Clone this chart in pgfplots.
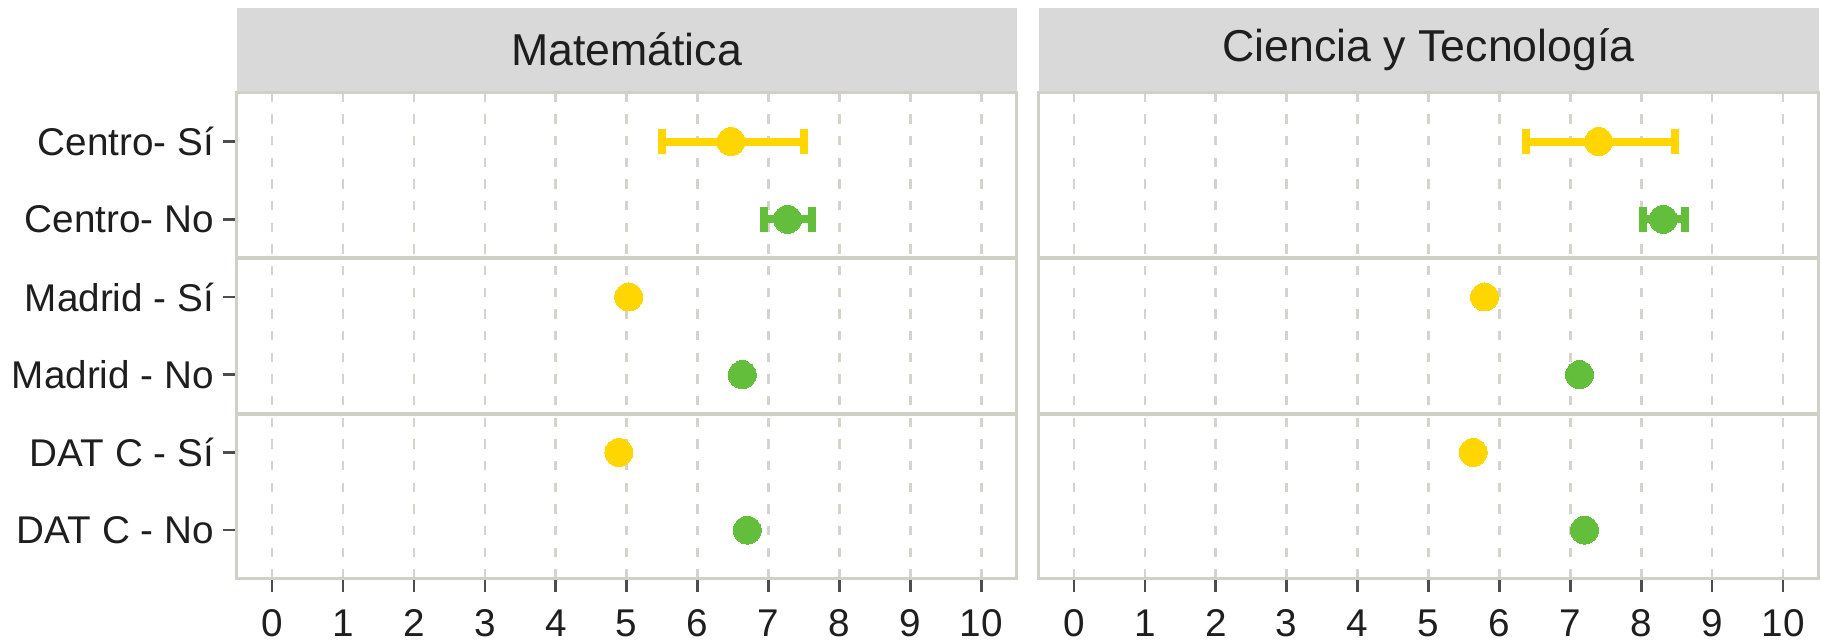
\documentclass[border=0pt]{standalone}
\usepackage{fontspec}
\setmainfont{Liberation Sans}
\usepackage{pgfplots}
\pgfplotsset{compat=1.18}
\usepackage{pgfplotstable}
\definecolor{cgold}{RGB}{255,214,0}
\definecolor{cgreen}{RGB}{99,190,60}
\definecolor{cborder}{RGB}{208,208,198}
\definecolor{cgrid}{RGB}{212,212,204}
\definecolor{cstrip}{RGB}{217,217,217}
\definecolor{ctick}{RGB}{77,77,77}
\definecolor{ctext}{RGB}{30,30,30}

% Matemática
\pgfplotstableread{
x y ep em
6.47 1 1.03 0.97
}\materrsi
\pgfplotstableread{
x y ep em
7.27 2 0.35 0.34
}\materrno
\pgfplotstableread{
x y
6.47 1
5.03 3
4.89 5
}\matsi
\pgfplotstableread{
x y
7.27 2
6.63 4
6.70 6
}\matno
% Ciencia y Tecnología
\pgfplotstableread{
x y ep em
7.40 1 1.07 1.03
}\scierrsi
\pgfplotstableread{
x y ep em
8.31 2 0.31 0.28
}\scierrno
\pgfplotstableread{
x y
7.40 1
5.79 3
5.63 5
}\scisi
\pgfplotstableread{
x y
8.31 2
7.13 4
7.20 6
}\scino

\pgfplotsset{
  facet/.style={
    scale only axis, width=234pt, height=145.7pt,
    anchor=south west,
    xmin=-0.5, xmax=10.5, ymin=0.37, ymax=6.62, y dir=reverse,
    xtick={0,...,10}, ytick={1,...,6},
    axis line style={cborder, line width=0.9pt},
    xmajorgrids, major grid style={cgrid, line width=0.8pt, dash pattern=on 2.8pt off 3.7pt},
    tick align=outside, major tick length=4.2pt,
    tick style={ctick, line width=0.8pt},
    xtick pos=bottom, ytick pos=left,
    /pgf/number format/assume math mode=true,
    ticklabel style={font=\fontsize{11.6}{13}\selectfont, text=ctext},
    xticklabel style={yshift=-1.6pt},
    yticklabel style={xshift=0.9pt},
    clip=false,
  },
  errs/.style={only marks, mark=none, forget plot, color=#1,
    error bars/.cd, x dir=both, x explicit,
    error bar style={#1, line width=2.4pt},
    error mark options={#1, line width=2.4pt, mark size=3.7pt, rotate=90}},
  dots/.style={only marks, mark=*, mark size=4.2pt, color=#1, mark options={draw=#1, fill=#1, line width=0pt}},
}

\begin{document}
\begin{tikzpicture}
\path[use as bounding box] (0,0) rectangle (546.3pt,192pt);
\begin{axis}[facet, name=L, at={(71pt,18.51pt)},
  yticklabels={Centro- Sí, Centro- No, Madrid - Sí, Madrid - No, DAT C - Sí, DAT C - No}]
  \draw[cborder, line width=1.2pt] (axis cs:-0.5,2.5) -- (axis cs:10.5,2.5);
  \draw[cborder, line width=1.2pt] (axis cs:-0.5,4.5) -- (axis cs:10.5,4.5);
  \addplot[errs=cgold] table[x=x, y=y, x error plus=ep, x error minus=em] {\materrsi};
  \addplot[errs=cgreen] table[x=x, y=y, x error plus=ep, x error minus=em] {\materrno};
  \addplot[dots=cgold] table[x=x, y=y] {\matsi};
  \addplot[dots=cgreen] table[x=x, y=y] {\matno};
\end{axis}
\begin{axis}[facet, name=R, at={(311.55pt,18.51pt)},
  yticklabels={}, ytick style={draw=none}]
  \draw[cborder, line width=1.2pt] (axis cs:-0.5,2.5) -- (axis cs:10.5,2.5);
  \draw[cborder, line width=1.2pt] (axis cs:-0.5,4.5) -- (axis cs:10.5,4.5);
  \addplot[errs=cgold] table[x=x, y=y, x error plus=ep, x error minus=em] {\scierrsi};
  \addplot[errs=cgreen] table[x=x, y=y, x error plus=ep, x error minus=em] {\scierrno};
  \addplot[dots=cgold] table[x=x, y=y] {\scisi};
  \addplot[dots=cgreen] table[x=x, y=y] {\scino};
\end{axis}
\fill[cstrip] ([yshift=0.4pt]L.north west) rectangle ([yshift=25.5pt]L.north east);
\fill[cstrip] ([yshift=0.4pt]R.north west) rectangle ([yshift=25.5pt]R.north east);
\node[text=ctext, font=\fontsize{13.4}{15}\selectfont] at ([yshift=12.9pt]L.north) {Matemática};
\node[text=ctext, font=\fontsize{13.4}{15}\selectfont] at ([yshift=12.9pt]R.north) {Ciencia y Tecnología};
\end{tikzpicture}
\end{document}
